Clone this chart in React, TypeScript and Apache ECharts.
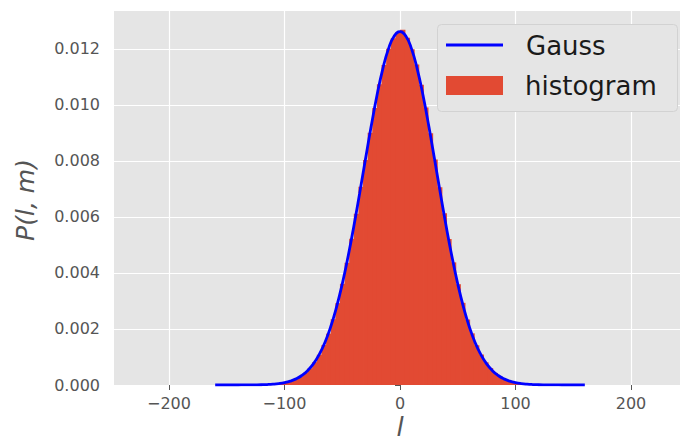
import React, { useEffect, useRef } from "react";
import * as echarts from "echarts";

// Gauss curve sample points
const gaussX = [
  -160, -155, -150, -145, -140, -135, -130, -125, -120, -115, -110, -105, -100, -95, -90, -85, -80, -75, -70, -65,
  -60, -55, -50, -45, -40, -35, -30, -25, -20, -15, -10, -5, 0, 5, 10, 15, 20, 25, 30, 35, 40, 45, 50, 55, 60, 65,
  70, 75, 80, 85, 90, 95, 100, 105, 110, 115, 120, 125, 130, 135, 140, 145, 150, 155, 160,
];
const gaussY = [
  0.00000002, 0.00000005, 0.0000001, 0.0000003, 0.0000007, 0.0000014, 0.0000027, 0.000005, 0.0000093, 0.0000168,
  0.0000295, 0.0000505, 0.0000844, 0.000138, 0.000219, 0.000339, 0.000512, 0.000755, 0.001085, 0.001521,
  0.00208, 0.002775, 0.003609, 0.004578, 0.005664, 0.006834, 0.008042, 0.009228, 0.010329, 0.011275,
  0.012004, 0.012463, 0.01262, 0.012463, 0.012004, 0.011275, 0.010329, 0.009228, 0.008042, 0.006834,
  0.005664, 0.004578, 0.003609, 0.002775, 0.00208, 0.001521, 0.001085, 0.000755, 0.000512, 0.000339,
  0.000219, 0.000138, 0.0000844, 0.0000505, 0.0000295, 0.0000168, 0.0000093, 0.000005, 0.0000027, 0.0000014,
  0.0000007, 0.0000003, 0.0000001, 0.00000005, 0.00000002,
];

// Histogram: bins of width 4 starting at -120
const histStart = -120;
const histBinWidth = 4;
const histValues = [
  0.000012, 0.000019, 0.00003, 0.000045, 0.00007, 0.000102, 0.00015, 0.000222, 0.000308, 0.000438,
  0.000596, 0.000818, 0.00108, 0.00143, 0.001835, 0.00235, 0.002925, 0.003615, 0.004365, 0.005225,
  0.006115, 0.00708, 0.008035, 0.009005, 0.009895, 0.01074, 0.01143, 0.01201, 0.012385, 0.0126,
  0.01269, 0.0124, 0.011995, 0.01145, 0.01072, 0.00991, 0.00899, 0.00805, 0.007065, 0.00613,
  0.00521, 0.00438, 0.0036, 0.002935, 0.002338, 0.001845, 0.00142, 0.001088, 0.00081, 0.000604,
  0.000432, 0.000314, 0.000216, 0.000153, 0.000101, 0.00007, 0.000044, 0.00003, 0.000018, 0.000012,
];

const xTicks = [-200, -100, 0, 100, 200];
const yTicks = [0, 0.002, 0.004, 0.006, 0.008, 0.01, 0.012];
const legendNames = ["Gauss", "histogram"];

const FONT = "DejaVu Sans";
const RED = "#E24A33";
const BLUE = "#0000ff";

export default function App() {
  const ref = useRef<HTMLDivElement>(null);
  useEffect(() => {
    if (!ref.current) return;
    document.body.style.margin = "0";
    const chart = echarts.init(ref.current, null, { renderer: "svg" });
    const histData = histValues.map((v, i) => [histStart + i * histBinWidth, histStart + (i + 1) * histBinWidth, v]);
    const lineData = gaussX.map((x, i) => [x, gaussY[i]]);
    chart.setOption({
      animation: false,
      backgroundColor: "#ffffff",
      grid: { left: 114, top: 11, right: 0, bottom: 58, show: true, backgroundColor: "#e5e5e5", borderWidth: 0 },
      xAxis: {
        type: "value",
        min: -247.6,
        max: 242.4,
        axisLine: { show: false },
        axisTick: { show: true, length: 5, lineStyle: { color: "#555555", width: 1 }, customValues: xTicks },
        axisLabel: {
          customValues: xTicks,
          color: "#555555",
          fontFamily: FONT,
          fontSize: 16,
          margin: 10,
          formatter: (v: number) => (v < 0 ? "\u2212" + Math.abs(v) : String(v)),
        },
        splitLine: { show: true, lineStyle: { color: "#ffffff", width: 1.2 } },
      },
      yAxis: {
        type: "value",
        min: 0,
        max: 0.013357,
        axisLine: { show: false },
        axisTick: { show: true, length: 5, lineStyle: { color: "#555555", width: 1 }, customValues: yTicks },
        axisLabel: {
          customValues: yTicks,
          color: "#555555",
          fontFamily: FONT,
          fontSize: 16,
          margin: 14,
          formatter: (v: number) => v.toFixed(3),
        },
        splitLine: { show: true, lineStyle: { color: "#ffffff", width: 1.2 } },
      },
      series: [
        {
          name: "histogram",
          type: "custom",
          itemStyle: { color: RED },
          renderItem: (params: any, api: any) => {
            const x0 = api.value(0);
            const x1 = api.value(1);
            const v = api.value(2);
            const p0 = api.coord([x0, v]);
            const p1 = api.coord([x1, 0]);
            return {
              type: "rect",
              shape: { x: p0[0], y: p0[1], width: p1[0] - p0[0] + 0.8, height: p1[1] - p0[1] },
              style: { fill: RED },
            };
          },
          encode: { x: [0, 1], y: 2 },
          data: histData,
          z: 2,
        },
        {
          name: "Gauss",
          type: "line",
          data: lineData,
          showSymbol: false,
          symbol: "none",
          smooth: true,
          lineStyle: { color: BLUE, width: 2.8 },
          itemStyle: { color: BLUE },
          z: 3,
        },
      ],
      graphic: [
        {
          type: "rect",
          shape: { x: 437.5, y: 24.5, width: 240, height: 87, r: 4 },
          style: { fill: "#e5e5e5", stroke: "#d2d2d2", lineWidth: 1 },
          z: 10,
        },
        {
          type: "line",
          shape: { x1: 446, y1: 45, x2: 503, y2: 45 },
          style: { stroke: BLUE, lineWidth: 2.8 },
          z: 11,
        },
        {
          type: "rect",
          shape: { x: 446, y: 76, width: 57, height: 19 },
          style: { fill: RED },
          z: 11,
        },
        {
          type: "text",
          x: 526,
          y: 46,
          style: { text: legendNames[0], fontFamily: FONT, fontSize: 26, fill: "#1a1a1a", verticalAlign: "middle" },
          z: 11,
        },
        {
          type: "text",
          x: 525,
          y: 86,
          style: { text: legendNames[1], fontFamily: FONT, fontSize: 26, fill: "#1a1a1a", verticalAlign: "middle" },
          z: 11,
        },
        {
          type: "text",
          x: 400,
          y: 441,
          style: {
            text: "l",
            fontFamily: FONT,
            fontStyle: "italic",
            fontSize: 26,
            lineHeight: 28,
            fill: "#555555",
            align: "center",
            verticalAlign: "bottom",
          },
        },
        {
          type: "text",
          x: 25,
          y: 200,
          rotation: Math.PI / 2,
          style: {
            text: "P(l, m)",
            fontFamily: FONT,
            fontStyle: "italic",
            fontSize: 25,
            fill: "#555555",
            align: "center",
            verticalAlign: "middle",
          },
        },
      ],
    });
    return () => chart.dispose();
  }, []);
  return <div ref={ref} style={{ width: 680, height: 443 }} />;
}
